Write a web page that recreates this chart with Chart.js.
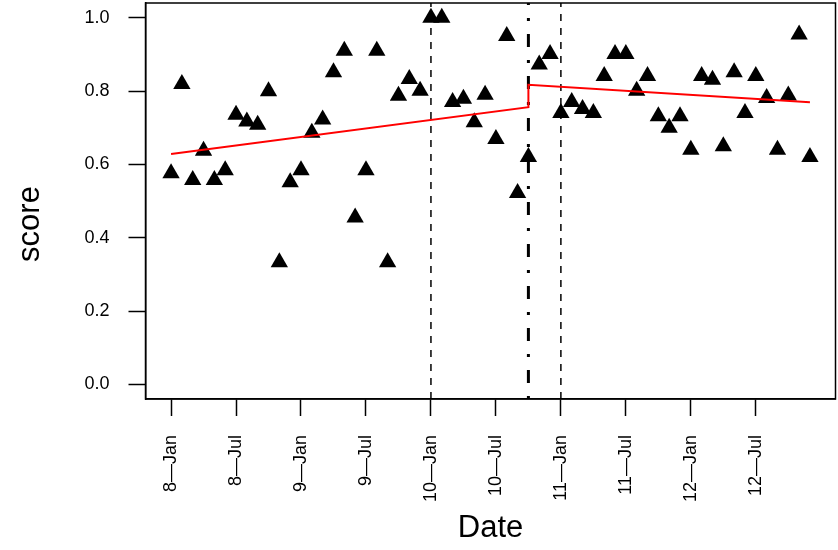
<!DOCTYPE html>
<html>
<head>
<meta charset="utf-8">
<script src="https://cdn.jsdelivr.net/npm/chart.js@4/dist/chart.umd.min.js"></script>
<style>
  html, body { margin: 0; padding: 0; background: #fff; }
</style>
</head>
<body>
<canvas id="chart" width="838" height="550"></canvas>
<script>
// months since Jan 2008, one score per month
const months = Array.from({ length: 60 }, (_, i) => i);
const scores = [
  0.576, 0.819, 0.557, 0.637, 0.557, 0.584, 0.735, 0.717, 0.708, 0.799,
  0.333, 0.551, 0.584, 0.686, 0.722, 0.851, 0.910, 0.455, 0.584, 0.910,
  0.333, 0.787, 0.833, 0.801, 1.000, 1.000, 0.770, 0.779, 0.715, 0.790,
  0.669, 0.950, 0.522, 0.620, 0.872, 0.901, 0.740, 0.770, 0.751, 0.740,
  0.841, 0.901, 0.901, 0.801, 0.841, 0.731, 0.700, 0.731, 0.640, 0.841,
  0.831, 0.649, 0.851, 0.740, 0.841, 0.781, 0.640, 0.788, 0.954, 0.620
];

// fitted segmented trend (month, value)
const fitMonths = [0, 33, 33, 59];
const fitValues = [0.628, 0.756, 0.817, 0.769];

// reference lines
const dashedMonths = [24, 36];
const breakMonth = 33;

const xTicks = [0, 6, 12, 18, 24, 30, 36, 42, 48, 54];
const xTickLabels = ['8—Jan', '8—Jul', '9—Jan', '9—Jul', '10—Jan', '10—Jul', '11—Jan', '11—Jul', '12—Jan', '12—Jul'];
const yTicks = [0, 0.2, 0.4, 0.6, 0.8, 1.0];

const xMin = -2.36, xMax = 61.36;
const yMin = -0.04, yMax = 1.04;

const FONT = '"Liberation Sans", Arial, Helvetica, sans-serif';

const vline = (m, dash, width) => ({
  type: 'line',
  data: [{ x: m, y: yMin }, { x: m, y: yMax }],
  borderColor: '#000',
  borderWidth: width,
  borderDash: dash,
  borderCapStyle: 'butt',
  pointRadius: 0,
  fill: false
});

// full box round the plot, plus the y label (sits a bit below the middle)
const boxPlugin = {
  id: 'box',
  afterDraw(chart) {
    const { ctx, chartArea: a } = chart;
    ctx.save();
    ctx.strokeStyle = '#000';
    ctx.lineWidth = 1.5;
    ctx.strokeRect(a.left, a.top, a.right - a.left, a.bottom - a.top);
    ctx.translate(30, 224);
    ctx.rotate(-Math.PI / 2);
    ctx.fillStyle = '#000';
    ctx.font = '31px ' + FONT;
    ctx.textAlign = 'center';
    ctx.textBaseline = 'middle';
    ctx.fillText('score', 0, 0);
    ctx.restore();
  }
};

const datasets = [
  {
    type: 'line',
    data: fitMonths.map((m, i) => ({ x: m, y: fitValues[i] })),
    borderColor: '#ff0000',
    borderWidth: 2,
    pointRadius: 0,
    fill: false
  },
  ...dashedMonths.map(m => vline(m, [7, 7], 1.5)),
  vline(breakMonth, [3, 13, 13, 13], 3),
  {
    type: 'scatter',
    data: months.map((m, i) => ({ x: m, y: scores[i] })),
    pointStyle: 'triangle',
    pointRadius: 10,
    backgroundColor: '#000',
    borderWidth: 0
  }
];

new Chart(document.getElementById('chart'), {
  data: { datasets },
  plugins: [boxPlugin],
  options: {
    responsive: false,
    animation: false,
    devicePixelRatio: 1,
    layout: { autoPadding: false, padding: { left: 0, right: 2.5, top: 3, bottom: 0 } },
    plugins: { legend: { display: false }, tooltip: { enabled: false } },
    scales: {
      x: {
        type: 'linear',
        min: xMin,
        max: xMax,
        afterBuildTicks: s => { s.ticks = xTicks.map(v => ({ value: v })); },
        afterFit: s => { s.height = 151; s.paddingLeft = 0; s.paddingRight = 0; },
        grid: { drawOnChartArea: false, drawTicks: true, tickLength: 17, tickColor: '#000', tickWidth: 1.5 },
        border: { display: true, color: '#000', width: 1.5 },
        ticks: {
          autoSkip: false,
          minRotation: 90,
          maxRotation: 90,
          padding: 19,
          color: '#000',
          font: { family: FONT, size: 18 },
          callback: v => xTickLabels[xTicks.indexOf(v)]
        },
        title: { display: true, text: 'Date', color: '#000', font: { family: FONT, size: 31 }, padding: { top: 3, bottom: 3 } }
      },
      y: {
        type: 'linear',
        min: yMin,
        max: yMax,
        afterBuildTicks: s => { s.ticks = yTicks.map(v => ({ value: v })); },
        afterFit: s => { s.width = 145.5; s.paddingTop = 0; s.paddingBottom = 0; },
        grid: { drawOnChartArea: false, drawTicks: true, tickLength: 17, tickColor: '#000', tickWidth: 1.5 },
        border: { display: true, color: '#000', width: 1.5 },
        ticks: {
          padding: 19,
          color: '#000',
          font: { family: FONT, size: 18 },
          callback: v => v.toFixed(1)
        },
        title: { display: false }
      }
    }
  }
});
</script>
</body>
</html>
